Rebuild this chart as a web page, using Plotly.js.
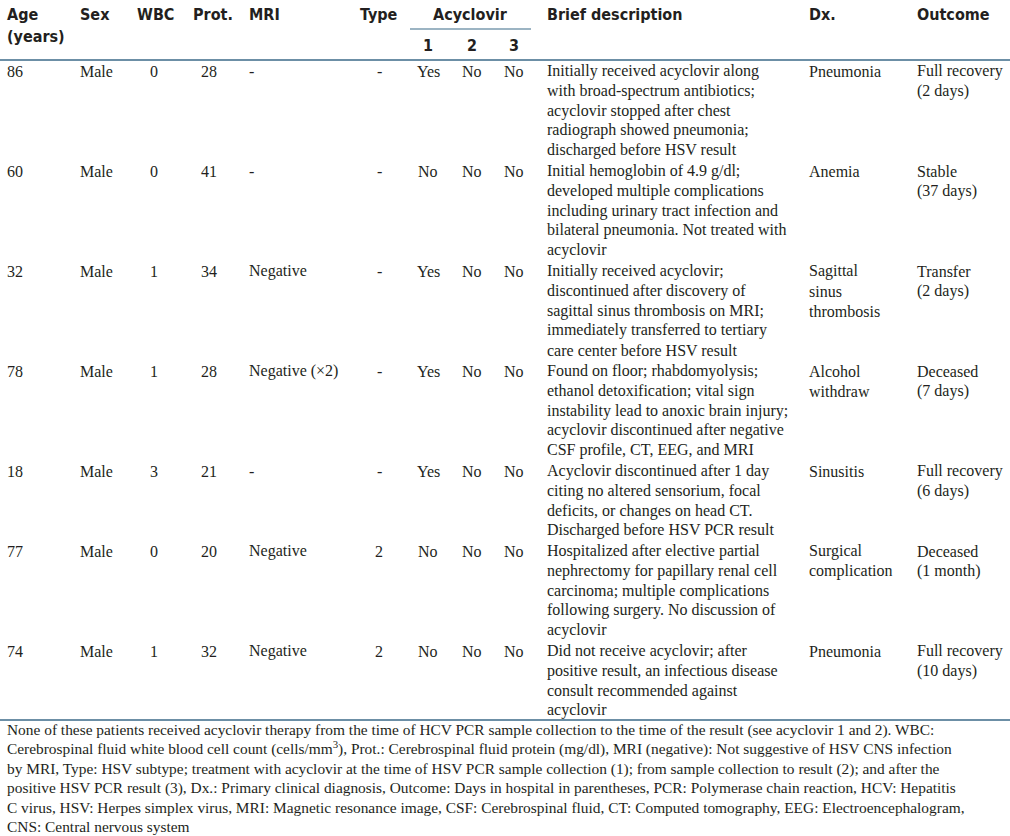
<!DOCTYPE html>
<html>
<head>
<meta charset="utf-8">
<script src="https://cdn.plot.ly/plotly-3.0.1.min.js"></script>
<style>
  html, body { margin: 0; padding: 0; background: #ffffff; }
  #chart { width: 1010px; height: 836px; }
</style>
</head>
<body>
<div id="chart"></div>
<script>
// ---------------- DATA ----------------
const headers = ['Age', 'Sex', 'WBC', 'Prot.', 'MRI', 'Type', 'Acyclovir', 'Brief description', 'Dx.', 'Outcome'];
const subHeaders = ['1', '2', '3'];
const ages = ['86', '60', '32', '78', '18', '77', '74'];
const sexes = ['Male', 'Male', 'Male', 'Male', 'Male', 'Male', 'Male'];
const wbc = ['0', '0', '1', '1', '3', '0', '1'];
const prot = ['28', '41', '34', '28', '21', '20', '32'];
const mri = ['-', '-', 'Negative', 'Negative (×2)', '-', 'Negative', 'Negative'];
const hsvType = ['-', '-', '-', '-', '-', '2', '2'];
const acy1 = ['Yes', 'No', 'Yes', 'Yes', 'Yes', 'No', 'No'];
const acy2 = ['No', 'No', 'No', 'No', 'No', 'No', 'No'];
const acy3 = ['No', 'No', 'No', 'No', 'No', 'No', 'No'];
const descLines = [
  ['Initially received acyclovir along', 'with broad-spectrum antibiotics;', 'acyclovir stopped after chest', 'radiograph showed pneumonia;', 'discharged before HSV result'],
  ['Initial hemoglobin of 4.9 g/dl;', 'developed multiple complications', 'including urinary tract infection and', 'bilateral pneumonia. Not treated with', 'acyclovir'],
  ['Initially received acyclovir;', 'discontinued after discovery of', 'sagittal sinus thrombosis on MRI;', 'immediately transferred to tertiary', 'care center before HSV result'],
  ['Found on floor; rhabdomyolysis;', 'ethanol detoxification; vital sign', 'instability lead to anoxic brain injury;', 'acyclovir discontinued after negative', 'CSF profile, CT, EEG, and MRI'],
  ['Acyclovir discontinued after 1 day', 'citing no altered sensorium, focal', 'deficits, or changes on head CT.', 'Discharged before HSV PCR result'],
  ['Hospitalized after elective partial', 'nephrectomy for papillary renal cell', 'carcinoma; multiple complications', 'following surgery. No discussion of', 'acyclovir'],
  ['Did not receive acyclovir; after', 'positive result, an infectious disease', 'consult recommended against', 'acyclovir']
];
const dxLines = [
  ['Pneumonia'], ['Anemia'], ['Sagittal', 'sinus', 'thrombosis'], ['Alcohol', 'withdraw'],
  ['Sinusitis'], ['Surgical', 'complication'], ['Pneumonia']
];
const outcomeLines = [
  ['Full recovery', '(2 days)'], ['Stable', '(37 days)'], ['Transfer', '(2 days)'], ['Deceased', '(7 days)'],
  ['Full recovery', '(6 days)'], ['Deceased', '(1 month)'], ['Full recovery', '(10 days)']
];
const footnoteLines = [
  'None of these patients received acyclovir therapy from the time of HCV PCR sample collection to the time of the result (see acyclovir 1 and 2). WBC:',
  'Cerebrospinal fluid white blood cell count (cells/mm<sup>3</sup>), Prot.: Cerebrospinal fluid protein (mg/dl), MRI (negative): Not suggestive of HSV CNS infection',
  'by MRI, Type: HSV subtype; treatment with acyclovir at the time of HSV PCR sample collection (1); from sample collection to result (2); and after the',
  'positive HSV PCR result (3), Dx.: Primary clinical diagnosis, Outcome: Days in hospital in parentheses, PCR: Polymerase chain reaction, HCV: Hepatitis',
  'C virus, HSV: Herpes simplex virus, MRI: Magnetic resonance image, CSF: Cerebrospinal fluid, CT: Computed tomography, EEG: Electroencephalogram,',
  'CNS: Central nervous system'
];

// ---------------- STYLE / LAYOUT ----------------
const W = 1010, H = 836;
const ruleColor = '#3b6a88';
const textColor = '#231f20';
const headFont = { family: '"Liberation Sans Narrow", "DejaVu Sans Condensed", "Arial Narrow", sans-serif', size: 16, color: textColor, weight: 'bold' };
const bodyFont = { family: '"Liberation Serif", "Times New Roman", serif', size: 16, color: textColor };
const footFont = { family: '"Liberation Serif", "Times New Roman", serif', size: 15.4, color: textColor };

// pixel -> paper helpers
const px = x => x / W;
const py = y => 1 - y / H;

const annotations = [];
function put(x, baseline, text, font, xanchor) {
  annotations.push({
    x: px(x), y: py(baseline + 0.216 * font.size), xref: 'paper', yref: 'paper',
    text: text, showarrow: false, xanchor: xanchor || 'left', yanchor: 'bottom',
    font: font, borderpad: 0, borderwidth: 0, align: 'left'
  });
}

// column positions: [x, anchor]
const col = {
  age: [7, 'left'], sex: [80, 'left'], wbc: [150, 'left'], prot: [201, 'left'],
  mri: [249, 'left'], type: [379, 'center'], a1: [428, 'center'], a2: [472, 'center'],
  a3: [514, 'center'], desc: [547, 'left'], dx: [809, 'left'], out: [917, 'left']
};

// header
const hb = 21;
put(7, hb, headers[0], headFont, 'left');
put(7, 43, '(years)', headFont, 'left');
put(80, hb, headers[1], headFont, 'left');
put(137, hb, headers[2], headFont, 'left');
put(193, hb, headers[3], headFont, 'left');
put(249, hb, headers[4], headFont, 'left');
put(379, hb, headers[5], headFont, 'center');
put(470, hb, headers[6], headFont, 'center');
put(547, hb, headers[7], headFont, 'left');
put(809, hb, headers[8], headFont, 'left');
put(917, hb, headers[9], headFont, 'left');
put(col.a1[0], 52, subHeaders[0], headFont, 'center');
put(col.a2[0], 52, subHeaders[1], headFont, 'center');
put(col.a3[0], 52, subHeaders[2], headFont, 'center');

// body rows
const firstBase = 77, rowLine = 20, innerLine = 19.6;
let lineCount = 0;
for (let i = 0; i < ages.length; i++) {
  const b = firstBase + rowLine * lineCount;
  put(col.age[0], b, ages[i], bodyFont, col.age[1]);
  put(col.sex[0], b, sexes[i], bodyFont, col.sex[1]);
  put(col.wbc[0], b, wbc[i], bodyFont, col.wbc[1]);
  put(col.prot[0], b, prot[i], bodyFont, col.prot[1]);
  put(col.mri[0], b, mri[i], bodyFont, col.mri[1]);
  put(col.type[0], b, hsvType[i], bodyFont, col.type[1]);
  put(col.a1[0], b, acy1[i], bodyFont, col.a1[1]);
  put(col.a2[0], b, acy2[i], bodyFont, col.a2[1]);
  put(col.a3[0], b, acy3[i], bodyFont, col.a3[1]);
  descLines[i].forEach((t, k) => put(col.desc[0], b + innerLine * k, t, bodyFont, 'left'));
  dxLines[i].forEach((t, k) => put(col.dx[0], b + innerLine * k, t, bodyFont, 'left'));
  outcomeLines[i].forEach((t, k) => put(col.out[0], b + innerLine * k, t, bodyFont, 'left'));
  lineCount += Math.max(descLines[i].length, dxLines[i].length, outcomeLines[i].length);
}

// footnote
footnoteLines.forEach((t, k) => put(7, 736 + 19.1 * k, t, footFont, 'left'));

function rule(x0, x1, y, w) {
  return { type: 'line', xref: 'paper', yref: 'paper', x0: px(x0), x1: px(x1), y0: py(y), y1: py(y),
           line: { color: ruleColor, width: w } };
}
const shapes = [rule(410, 531, 29, 1.2), rule(0, W, 60, 1.5), rule(0, W, 720, 1.5)];

const layout = {
  width: W, height: H,
  margin: { l: 0, r: 0, t: 0, b: 0, pad: 0 },
  paper_bgcolor: '#ffffff', plot_bgcolor: '#ffffff',
  showlegend: false,
  xaxis: { visible: false, fixedrange: true },
  yaxis: { visible: false, fixedrange: true },
  annotations: annotations,
  shapes: shapes
};

Plotly.newPlot('chart', [], layout, { staticPlot: true, displayModeBar: false });
</script>
</body>
</html>
